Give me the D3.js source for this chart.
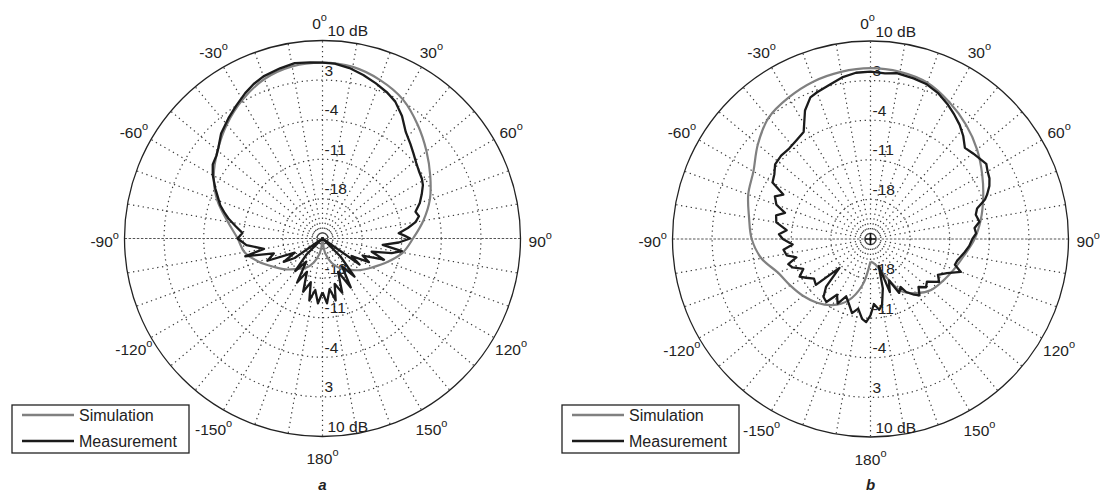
<!DOCTYPE html>
<html>
<head>
<meta charset="utf-8">
<script src="https://cdn.jsdelivr.net/npm/d3@7"></script>
<style>
  body { margin: 0; background: #fff; }
  svg { display: block; }
  text { font-family: "Liberation Sans", Arial, sans-serif; fill: #222; }
</style>
</head>
<body>
<svg id="chart" width="1105" height="496"></svg>
<script>
// ---- data: angle in degrees (0 at top, clockwise positive), gain in dB ----
const ringValues = [-18, -11, -4, 3];
const ringLabels = ["-18", "-11", "-4", "3"];
const outerLabel = "10 dB";
const angleTicks = [0, 30, 60, 90, 120, 150, 180, -150, -120, -90, -60, -30];
const seriesNames = ["Simulation", "Measurement"];
const panelTags = ["a", "b"];

// panel a
const simAngA = [-180,-170,-160,-150,-140,-130,-120,-110,-100,-90,-80,-70,-60,-50,-40,-30,-20,-10,0,10,20,30,40,50,60,70,80,90,100,110,120,130,140,150,160,170,180];
const simDbA  = [-25,-22.5,-20.5,-19,-18,-16.5,-15,-13,-11,-10,-8,-5.2,-2.8,-0.8,1.3,3.3,5.0,5.9,6.1,5.8,4.8,3.4,1.2,-1.0,-3.0,-4.8,-6.9,-9,-10.6,-12.8,-14.8,-16.3,-17.8,-19,-20.5,-22.5,-25];

const measAngA = [-180,-176,-172,-168,-165,-160,-155,-150,-145,-140,-135,-130,-125,-121,-117,-112,-107,-103,-100,-95,-90,-86,-82,-78,-75,-72,-68,-65,-60,-56,-52,-49,-44,-38,-33,-28,-24,-20,-14,-9,-4,0,4,9,14,19,24,28,33,38,43,47,51,55,59,62,66,70,74,77,80,83,86,88,90,93,96,99,102,105,109,113,117,121,125,130,135,140,145,150,155,160,165,168,172,176,180];
const measDbA  = [-15.5,-13.5,-15.8,-13.8,-17,-15,-18.5,-16,-20,-17.5,-21,-25,-19,-17,-19.5,-14.5,-16,-11,-14.5,-11.5,-10,-10.8,-9.5,-8,-7,-6,-5,-4.1,-2.6,-1.6,-1.2,-0.6,0.8,2.0,3.0,4.1,4.9,5.5,6.0,6.4,6.2,6.1,6.0,5.5,4.8,4.0,3.2,2.4,0.8,-1.1,-2.2,-3.0,-3.7,-4.2,-4.5,-4.9,-5.8,-6.7,-7.9,-7.5,-8.3,-9.8,-11.5,-10.5,-9.5,-11.5,-14.3,-10.8,-12.5,-16,-13.5,-17.3,-15.8,-19,-17,-25,-20.5,-16.2,-19,-15,-18.5,-14.8,-16.7,-13.8,-16,-13.5,-15.5];

// panel b
const simAngB = [-180,-170,-160,-150,-140,-130,-120,-110,-100,-90,-80,-70,-60,-50,-40,-30,-20,-10,0,10,20,30,40,50,60,70,80,90,100,110,120,130,140,150,160,170,180];
const simDbB  = [-21,-16.7,-13.4,-11.5,-10.3,-9.4,-8.6,-7.6,-5.4,-4.0,-3.2,-2.0,-1.1,1.0,3.0,3.9,4.6,5.0,5.2,5.0,4.4,2.9,1.3,-0.4,-2.2,-3.8,-5.2,-6.6,-8.2,-9.3,-10.2,-11,-12.5,-14.5,-18.5,-20.5,-21];

const measAngB = [-180,-177,-174,-170,-166,-162,-157,-153,-149,-145,-141,-137,-133,-130,-125,-121,-118,-114,-110,-107,-104,-101,-97,-94,-90,-87,-84,-80,-76,-73,-70,-66,-63,-60,-56,-52,-47,-42,-37,-32,-27,-23,-20,-15,-10,-5,0,5,9,15,20,25,30,34,38,42,46,50,54,57,60,63,66,69,71,74,77,81,84,87,90,94,98,102,104,107,110,114,118,122,127,131,135,139,142,146,148,152,156,160,163,166,170,173,177,180];
const measDbB  = [-11.5,-10.3,-10.8,-12.5,-11.5,-12.8,-14,-12.2,-13.5,-11.4,-11.8,-13.5,-17.5,-12.4,-12.8,-11.7,-10.8,-12,-10.3,-9.8,-11.5,-9.9,-9.5,-11.2,-9.5,-8.8,-10.1,-8.1,-7.8,-9.2,-7.3,-6.5,-7.7,-5.0,-4.5,-3.6,-3.4,-3.5,-3.2,-2.7,0.5,2.2,2.6,3.2,4.0,4.5,4.6,4.4,4.7,4.4,4.1,3.4,2.4,1.5,0.6,-0.5,-1.8,-1.4,-1.0,-0.6,-1.1,-1.4,-2.0,-2.9,-3.6,-5.4,-5.9,-5.5,-6.5,-6.3,-7,-7.5,-8.2,-8.9,-9.2,-9.4,-8.0,-10.2,-11.5,-10.7,-12.5,-12,-13,-11.8,-12.5,-13.7,-15,-14.2,-17,-15,-20,-16,-13.2,-12.4,-13.5,-11.5];

// ---- layout ----
const R = 198;
const dbMin = -25, dbMax = 10;
const colors = { sim: "#808080", meas: "#1b1b1b" };

const panels = [
  { cx: 322.5, cy: 238.5, simA: simAngA, simD: simDbA, measA: measAngA, measD: measDbA, legendX: 12, tag: panelTags[0], cross: false },
  { cx: 870.5, cy: 239,   simA: simAngB, simD: simDbB, measA: measAngB, measD: measDbB, legendX: 562, tag: panelTags[1], cross: true }
];

const svg = d3.select("#chart");
const rScale = d3.scaleLinear().domain([dbMin, dbMax]).range([0, R]).clamp(true);
const rad = d => d * Math.PI / 180;

panels.forEach(p => {
  const g = svg.append("g").attr("transform", `translate(${p.cx},${p.cy})`);

  // dotted spokes every 10 degrees
  const spokes = d3.range(0, 360, 10).filter(a => a !== 90 && a !== 270);
  g.selectAll("line.spoke").data(spokes).join("line")
    .attr("class", "spoke")
    .attr("x1", 0).attr("y1", 0)
    .attr("x2", a => R * Math.sin(rad(a)))
    .attr("y2", a => -R * Math.cos(rad(a)))
    .attr("stroke", "#3a3a3a").attr("stroke-width", 1.2)
    .attr("stroke-dasharray", "1.3,3.6");

  // dotted dB rings
  g.selectAll("circle.ring").data(ringValues).join("circle")
    .attr("class", "ring")
    .attr("r", d => rScale(d))
    .attr("fill", "none")
    .attr("stroke", "#3a3a3a").attr("stroke-width", 1.2)
    .attr("stroke-dasharray", "1.3,3.6");

  // dashed horizontal axis (-90 / 90)
  g.append("line")
    .attr("x1", -R).attr("x2", R).attr("y1", 0).attr("y2", 0)
    .attr("stroke", "#555").attr("stroke-width", 1.1)
    .attr("stroke-dasharray", "2.5,1.6");

  // outer circle
  g.append("circle").attr("r", R).attr("fill", "none")
    .attr("stroke", "#222").attr("stroke-width", 1.3);

  // ring labels above each ring, upper and lower half
  const labelRows = ringValues.map((v, i) => ({ v, t: ringLabels[i] }))
    .concat([{ v: dbMax, t: outerLabel }]);
  ["up", "down"].forEach(side => {
    g.selectAll(`text.rl-${side}`).data(labelRows).join("text")
      .attr("class", `rl-${side}`)
      .attr("x", d => d.v === dbMax ? 5 : 2)
      .attr("y", d => (side === "up" ? -rScale(d.v) : rScale(d.v)) - 10)
      .attr("dominant-baseline", "central")
      .attr("font-size", 15.5)
      .text(d => d.t);
  });

  // angle labels at 1.1 R
  const al = g.selectAll("text.ang").data(angleTicks).join("text")
    .attr("class", "ang")
    .attr("x", a => 1.1 * R * Math.sin(rad(a)) - (a === 0 ? 3 : 0))
    .attr("y", a => -1.1 * R * Math.cos(rad(a)) + 2)
    .attr("text-anchor", "middle")
    .attr("dominant-baseline", "central")
    .attr("font-size", 15.5);
  al.append("tspan").text(a => a);
  al.append("tspan").attr("font-size", 11).attr("dy", -6).text("o");

  // series curves
  const line = d3.lineRadial()
    .angle(d => rad(d[0]))
    .radius(d => rScale(d[1]));
  const simPts = p.simA.map((a, i) => [a, p.simD[i]]);
  const measPts = p.measA.map((a, i) => [a, p.measD[i]]);

  g.append("path").datum(simPts)
    .attr("d", line.curve(d3.curveCatmullRom.alpha(0.5)))
    .attr("fill", "none").attr("stroke", colors.sim).attr("stroke-width", 2.2)
    .attr("stroke-linejoin", "round");
  g.append("path").datum(measPts)
    .attr("d", line.curve(d3.curveLinear))
    .attr("fill", "none").attr("stroke", colors.meas).attr("stroke-width", 2.3)
    .attr("stroke-linejoin", "round");

  if (p.cross) {
    g.append("path").attr("d", "M-6,0H6M0,-6V6")
      .attr("stroke", "#111").attr("stroke-width", 1.6);
  }

  // legend
  const lg = svg.append("g").attr("transform", `translate(${p.legendX},405)`);
  lg.append("rect").attr("width", 177).attr("height", 48)
    .attr("fill", "#fff").attr("stroke", "#222").attr("stroke-width", 1.3);
  [colors.sim, colors.meas].forEach((c, i) => {
    const y = 10 + i * 26;
    lg.append("line").attr("x1", 10).attr("x2", 62).attr("y1", y).attr("y2", y)
      .attr("stroke", c).attr("stroke-width", 2.3);
    lg.append("text").attr("x", 67).attr("y", y).attr("dominant-baseline", "central")
      .attr("font-size", 16).text(seriesNames[i]);
  });

  // panel tag
  svg.append("text").attr("x", p.cx).attr("y", 484)
    .attr("text-anchor", "middle").attr("dominant-baseline", "central")
    .attr("font-size", 15).attr("font-style", "italic").attr("font-weight", "bold")
    .text(p.tag);
});
</script>
</body>
</html>
